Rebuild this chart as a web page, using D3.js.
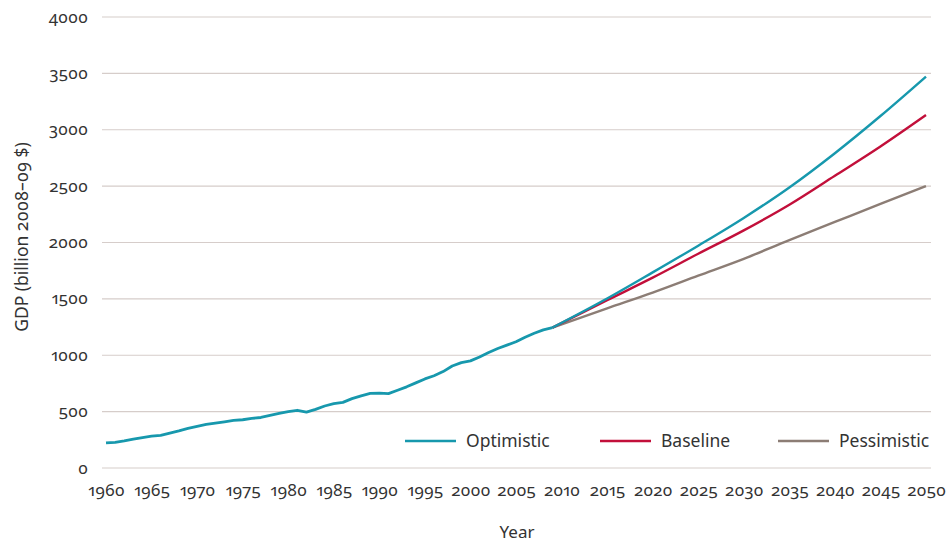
<!DOCTYPE html>
<html><head><meta charset="utf-8">
<script src="https://cdn.jsdelivr.net/npm/d3@7"></script>
<style>
body{margin:0;background:#fff;}
svg text{font-family:"Noto Sans",Lato,sans-serif;fill:#333;font-variant-numeric:oldstyle-nums proportional-nums;font-feature-settings:"onum" 1,"pnum" 1;}
</style></head>
<body><svg id="c" width="948" height="542"></svg>
<script>
const histYears = d3.range(1960, 2010);
const histGDP = [222,228,240,256,270,282,290,310,330,352,370,386,398,410,422,428,440,448,466,484,500,512,495,520,550,570,582,615,640,662,664,660,690,720,755,790,818,855,905,935,950,985,1025,1060,1090,1120,1160,1195,1225,1245];
const projYears = [2009,2015,2020,2025,2030,2035,2040,2045,2050];
const optimistic = [1245,1503,1735,1972,2218,2488,2792,3122,3472];
const baseline   = [1245,1488,1688,1900,2108,2335,2592,2852,3131];
const pessimistic= [1245,1416,1556,1706,1855,2022,2182,2342,2501];
const seriesNames = ["Optimistic","Baseline","Pessimistic"];
const seriesColors = ["#1798ad","#c20f3a","#8c7d75"];
const yTicks = d3.range(0, 4001, 500);
const xTicks = d3.range(1960, 2051, 5);

const svg = d3.select("#c");
const x = d3.scaleLinear().domain([1960, 2050]).range([106, 926]);
const y = d3.scaleLinear().domain([0, 4000]).range([468, 17]);

svg.append("g").selectAll("line").data(yTicks).join("line")
  .attr("x1", 102).attr("x2", 931)
  .attr("y1", d => y(d)).attr("y2", d => y(d))
  .attr("stroke", "#d6cdca").attr("stroke-width", 1.2);

const yAxis = d3.axisLeft(y).tickValues(yTicks).tickFormat(d3.format("d")).tickSize(0).tickPadding(0);
svg.append("g").attr("transform", "translate(88,0)").call(yAxis)
  .call(g => g.select(".domain").remove())
  .selectAll("text").attr("font-size", 17).attr("fill", "#333").attr("dy", "0.3em");

const xAxis = d3.axisBottom(x).tickValues(xTicks).tickFormat(d3.format("d")).tickSize(0).tickPadding(0);
svg.append("g").attr("transform", "translate(0,491)").call(xAxis)
  .call(g => g.select(".domain").remove())
  .selectAll("text").attr("font-size", 17).attr("fill", "#333").attr("dy", "0.3em");

svg.append("text").attr("x", 517).attr("y", 538).attr("text-anchor", "middle")
  .attr("font-size", 17).text("Year");
svg.append("text").attr("transform", "translate(28,237) rotate(-90)").attr("text-anchor", "middle")
  .attr("font-size", 17.5).text("GDP (billion 2008–09 $)");

const line = d3.line().x(d => x(d[0])).y(d => y(d[1])).curve(d3.curveMonotoneX);
const proj = [optimistic, baseline, pessimistic];
[2,1,0].forEach(i => {
  svg.append("path").datum(projYears.map((yr, j) => [yr, proj[i][j]]))
    .attr("d", line).attr("fill", "none").attr("stroke", seriesColors[i]).attr("stroke-width", 2.4);
});
svg.append("path").datum(histYears.map((yr, j) => [yr, histGDP[j]]))
  .attr("d", d3.line().x(d => x(d[0])).y(d => y(d[1])))
  .attr("fill", "none").attr("stroke", seriesColors[0]).attr("stroke-width", 2.8).attr("stroke-linejoin", "round");

const legX = [405, 600, 778];
seriesNames.forEach((n, i) => {
  const g = svg.append("g").attr("transform", `translate(${legX[i]},441)`);
  g.append("line").attr("x1", 0).attr("x2", 51).attr("stroke", seriesColors[i]).attr("stroke-width", 2.4);
  g.append("text").attr("x", 61).attr("dy", "0.35em").attr("font-size", 17.5).text(n);
});
</script></body></html>
